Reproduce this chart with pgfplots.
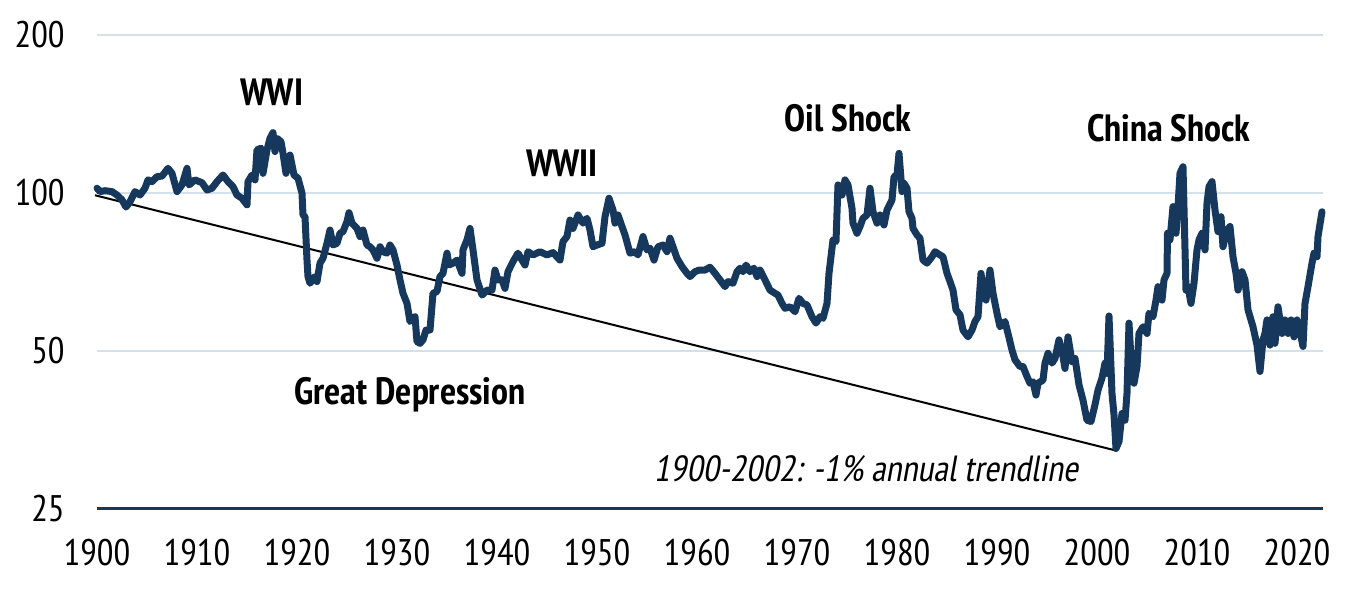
\documentclass[border=0pt]{standalone}
\usepackage{fontspec}
\setmainfont{PT Sans Narrow}
\newfontfamily\slfont[FakeSlant=0.18]{PT Sans Narrow}
\usepackage{pgfplots}
\pgfplotsset{compat=1.18}

\definecolor{navy}{RGB}{22,56,92}
\definecolor{gridblue}{RGB}{212,224,234}

\begin{document}
\begin{tikzpicture}
  \useasboundingbox (-48.5pt,-41.5pt) rectangle (630pt,254.5pt);
  \begin{axis}[
      scale only axis,
      width=613pt, height=237pt,
      xmin=1900, xmax=2022.6,
      ymode=log, log basis y=2,
      ymin=25, ymax=200,
      xtick={1900,1910,1920,1930,1940,1950,1960,1970,1980,1990,2000,2010,2020},
      xticklabels={1900,1910,1920,1930,1940,1950,1960,1970,1980,1990,2000,2010,2020},
      ytick={25,50,100,200},
      yticklabels={25,50,100,200},
      major tick length=0pt,
      axis line style={draw=none},
      ymajorgrids,
      major grid style={gridblue, line width=1pt},
      tick label style={font=\fontsize{18.5pt}{21pt}\selectfont, inner sep=0pt},
      xticklabel style={anchor=north, yshift=-15pt},
      yticklabel style={anchor=east, xshift=-16pt},
      clip=false,
    ]
    % bottom axis line at 25
    \draw[navy, line width=1.5pt] (rel axis cs:0,0) -- (rel axis cs:1,0);

    % trendline 1900-2002
    \addplot[black, line width=1pt] coordinates {(1899.8,99) (2001.9,32.3)};

    % index
    \addplot[navy, line width=3.5pt, line join=round, line cap=round] coordinates {
      (1900.0,102.1) (1900.3,100.6) (1900.8,101.0) (1901.5,100.6) (1902.0,99.1)
      (1902.5,97.0) (1902.9,94.0) (1903.3,96.2) (1903.8,100.6) (1904.3,99.1)
      (1904.8,102.1) (1905.1,105.9) (1905.5,105.1) (1906.0,107.4) (1906.5,107.7)
      (1907.1,111.4) (1907.5,109.0) (1908.0,100.6) (1908.5,103.6) (1909.0,111.4)
      (1909.2,103.6) (1909.8,105.9) (1910.5,104.6) (1911.0,101.3) (1911.5,102.1)
      (1912.0,105.1) (1912.6,108.2) (1913.1,105.1) (1913.6,102.8) (1914.0,99.1)
      (1914.5,97.7) (1915.0,94.9) (1915.1,105.1) (1915.5,108.2) (1915.8,105.9)
      (1916.0,120.8) (1916.4,121.7) (1916.6,109.0) (1917.0,120.8) (1917.3,127.1)
      (1917.6,130.3) (1917.8,119.9) (1918.0,127.1) (1918.4,125.2) (1918.6,119.0)
      (1918.9,109.0) (1919.3,118.1) (1919.7,108.2) (1920.1,106.7) (1920.5,99.9)
      (1920.6,90.8) (1920.8,90.1) (1921.0,74.5) (1921.1,69.3) (1921.3,67.3)
      (1921.8,69.3) (1922.0,67.8) (1922.3,73.5) (1922.6,75.1) (1923.0,80.2)
      (1923.3,85.0) (1923.6,79.6) (1924.0,80.2) (1924.3,83.8) (1924.6,84.4)
      (1925.0,88.2) (1925.2,91.7) (1925.5,87.6) (1926.0,85.6) (1926.3,82.6)
      (1926.6,85.0) (1927.0,79.6) (1927.3,79.0) (1927.6,77.9) (1928.0,75.1)
      (1928.3,79.0) (1928.6,77.3) (1929.0,76.8) (1929.3,79.6) (1929.6,77.9)
      (1930.0,72.9) (1930.3,68.3) (1930.6,64.4) (1931.0,61.6) (1931.3,56.9)
      (1931.8,58.1) (1932.0,52.1) (1932.3,51.7) (1932.6,52.5) (1932.9,54.8)
      (1933.3,54.8) (1933.6,64.4) (1934.0,64.9) (1934.3,69.3) (1934.6,70.3)
      (1935.0,76.8) (1935.2,72.9) (1935.6,73.5) (1936.0,74.5) (1936.5,70.3)
      (1936.6,77.9) (1937.0,81.4) (1937.3,85.6) (1937.6,77.9) (1938.0,68.3)
      (1938.5,63.9) (1939.0,65.3) (1939.5,65.3) (1939.8,71.3) (1940.1,68.3)
      (1940.5,68.3) (1940.8,65.8) (1941.1,70.8) (1941.6,74.0) (1942.1,76.8)
      (1942.5,74.5) (1942.8,72.9) (1943.1,77.3) (1943.6,76.2) (1944.3,77.3)
      (1945.0,76.2) (1945.6,77.0) (1946.3,74.5) (1946.6,80.8) (1947.0,82.6)
      (1947.3,88.8) (1947.6,85.6) (1948.1,90.8) (1948.6,87.6) (1949.0,89.5)
      (1949.3,85.0) (1949.6,79.0) (1950.0,79.6) (1950.5,80.2) (1950.8,90.1)
      (1951.2,97.7) (1951.6,92.8) (1951.8,87.6) (1952.1,90.8) (1952.5,86.3)
      (1952.8,83.2) (1953.3,76.8) (1953.8,77.3) (1954.1,76.2) (1954.6,82.6)
      (1955.0,77.9) (1955.3,78.5) (1955.7,74.5) (1956.1,79.0) (1956.6,79.6)
      (1957.0,77.3) (1957.3,82.0) (1957.6,79.0) (1958.0,75.1) (1958.5,72.4)
      (1959.0,70.3) (1959.3,69.3) (1959.8,70.8) (1960.2,71.3) (1960.8,71.3)
      (1961.3,72.2) (1961.8,70.3) (1962.3,68.3) (1962.8,66.3) (1963.1,67.8)
      (1963.6,67.3) (1964.0,70.8) (1964.3,71.9) (1964.6,70.8) (1964.9,72.9)
      (1965.3,70.8) (1965.7,71.9) (1966.0,69.3) (1966.3,71.3) (1966.8,68.3)
      (1967.3,65.3) (1967.8,64.4) (1968.1,63.9) (1968.5,61.6) (1968.8,60.3)
      (1969.3,60.7) (1969.8,59.4) (1970.2,63.0) (1970.6,61.6) (1971.0,61.2)
      (1971.5,58.1) (1971.9,56.5) (1972.3,58.1) (1972.6,57.7) (1973.0,61.6)
      (1973.2,70.3) (1973.6,81.4) (1973.9,80.8) (1974.1,103.6) (1974.5,99.1)
      (1974.8,105.9) (1975.1,103.6) (1975.5,93.5) (1975.6,87.6) (1976.0,83.8)
      (1976.3,86.3) (1976.6,89.5) (1977.0,90.8) (1977.3,102.1) (1977.6,92.1)
      (1978.0,87.6) (1978.3,90.8) (1978.7,86.9) (1979.0,92.8) (1979.5,97.0)
      (1979.7,107.4) (1980.0,108.2) (1980.2,119.0) (1980.5,100.6) (1980.7,104.3)
      (1981.0,102.1) (1981.2,92.1) (1981.5,89.5) (1981.6,85.6) (1982.0,83.2)
      (1982.3,82.0) (1982.6,74.5) (1983.0,73.5) (1983.5,75.6) (1983.8,77.3)
      (1984.3,76.2) (1984.6,75.6) (1985.0,70.3) (1985.3,67.8) (1985.6,65.3)
      (1985.9,59.9) (1986.3,58.6) (1986.6,54.8) (1987.1,53.2) (1987.5,54.8)
      (1987.8,56.9) (1988.1,58.1) (1988.4,70.3) (1988.6,65.3) (1988.9,62.5)
      (1989.3,71.3) (1989.6,64.4) (1990.0,59.0) (1990.3,55.6) (1990.8,56.9)
      (1991.1,54.0) (1991.5,50.2) (1991.8,48.1) (1992.3,46.7) (1992.6,46.7)
      (1993.0,44.7) (1993.3,43.4) (1993.6,43.7) (1993.9,41.2) (1994.1,43.4)
      (1994.6,44.0) (1994.8,47.4) (1995.1,49.5) (1995.5,47.4) (1995.8,48.4)
      (1996.2,52.5) (1996.6,48.8) (1996.8,46.3) (1997.1,53.2) (1997.5,47.7)
      (1997.8,48.4) (1998.2,43.1) (1998.6,40.3) (1999.0,36.9) (1999.4,36.7)
      (1999.8,39.5) (2000.1,42.1) (2000.5,44.4) (2000.8,47.4) (2001.0,45.3)
      (2001.2,58.3) (2001.5,41.5) (2001.7,37.8) (2001.9,32.6) (2002.2,33.6)
      (2002.5,38.0) (2002.8,36.9) (2003.0,41.5) (2003.2,56.5) (2003.5,44.7)
      (2003.7,43.4) (2004.0,46.7) (2004.2,54.0) (2004.6,55.6) (2005.0,54.0)
      (2005.2,59.0) (2005.6,58.1) (2005.9,62.5) (2006.1,66.3) (2006.5,62.5)
      (2006.7,68.3) (2007.0,70.3) (2007.05,83.8) (2007.3,81.4) (2007.6,94.2)
      (2007.9,83.8) (2008.1,94.2) (2008.3,109.0) (2008.6,112.2) (2008.9,65.3)
      (2009.1,66.3) (2009.4,61.6) (2009.7,67.3) (2010.0,77.9) (2010.2,81.4)
      (2010.5,83.8) (2010.8,77.9) (2011.0,95.6) (2011.2,102.8) (2011.5,105.1)
      (2011.8,92.8) (2012.1,84.4) (2012.4,90.1) (2012.6,79.0) (2013.0,85.0)
      (2013.3,86.3) (2013.6,75.6) (2013.9,70.3) (2014.1,65.3) (2014.5,70.8)
      (2014.8,68.3) (2015.1,59.9) (2015.6,55.6) (2016.0,51.3) (2016.3,45.7)
      (2016.6,52.5) (2016.8,54.0) (2017.0,57.3) (2017.3,51.3) (2017.6,58.1)
      (2017.8,51.7) (2018.1,60.7) (2018.5,54.0) (2018.8,57.3) (2019.1,54.0)
      (2019.4,57.3) (2019.7,53.2) (2020.0,57.3) (2020.2,55.6) (2020.6,51.0)
      (2020.8,61.6) (2021.1,66.3) (2021.5,73.5) (2021.7,76.8) (2022.0,75.6)
      (2022.1,82.6) (2022.5,92.1)
    };

    % annotations
    \begin{scope}[every node/.style={font=\bfseries\fontsize{19pt}{22pt}\selectfont, anchor=base, inner sep=0pt}]
      \node at (axis cs:1917.5,146.5) {WWI};
      \node at (axis cs:1946.5,107.7) {WWII};
      \node at (axis cs:1975.1,130.7) {Oil Shock};
      \node at (axis cs:2007.2,125.6) {China Shock};
      \node at (axis cs:1931.3,39.6) {Great Depression};
    \end{scope}
    \node[anchor=base, inner sep=0pt, font=\slfont\fontsize{18.2pt}{21pt}\selectfont]
      at (axis cs:1976.9,28.15) {1900-2002: -1\% annual trendline};
  \end{axis}
\end{tikzpicture}
\end{document}
